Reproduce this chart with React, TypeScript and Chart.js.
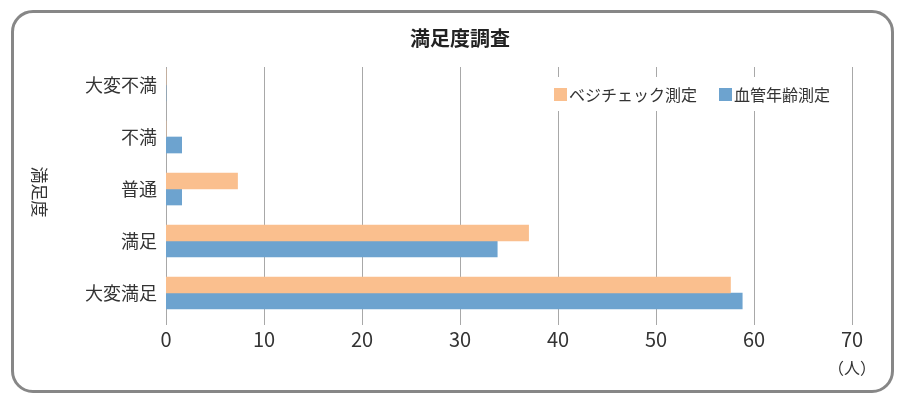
import React, { useEffect, useRef } from "react";
import { Chart, registerables } from "chart.js";

Chart.register(...registerables);

const chartTitle = "満足度調査";
const yAxisTitle = "満足度";
const unitLabel = "（人）";
const categories = ["大変不満", "不満", "普通", "満足", "大変満足"];
const seriesNames = ["ベジチェック測定", "血管年齢測定"];
const vegeCheckValues = [0, 0, 7.3, 37, 57.6];
const vascularAgeValues = [0, 1.6, 1.6, 33.8, 58.8];
const xTickValues = [0, 10, 20, 30, 40, 50, 60, 70];

const ORANGE = "#FABF8E";
const BLUE = "#6DA3CF";
const GRID = "#a8a8a8";
const TEXT = "#333333";
const FONT = '"Noto Sans CJK JP", "Noto Sans", sans-serif';

const decorPlugin = {
  id: "decor",
  beforeDatasetsDraw(chart: any) {
    const ctx = chart.ctx;
    const xs = chart.scales.x;
    const area = chart.chartArea;
    ctx.save();
    ctx.strokeStyle = GRID;
    ctx.lineWidth = 1;
    for (const v of xTickValues) {
      const px = Math.round(xs.getPixelForValue(v)) + 0.5;
      ctx.beginPath();
      ctx.moveTo(px, area.top + 8);
      ctx.lineTo(px, area.bottom + 6);
      ctx.stroke();
    }
    ctx.restore();
  },
  afterDatasetsDraw(chart: any) {
    const ctx = chart.ctx;
    const area = chart.chartArea;
    const colors = [ORANGE, BLUE];
    ctx.save();
    ctx.font = `16px ${FONT}`;
    const box = 13;
    const gapBoxText = 2;
    const gapItems = 22;
    const widths = seriesNames.map((n) => ctx.measureText(n).width);
    let total = 0;
    widths.forEach((w, i) => {
      total += box + gapBoxText + w + (i < widths.length - 1 ? gapItems : 0);
    });
    const right = area.right - 22;
    let x = right - total;
    const cy = 95;
    ctx.fillStyle = "#ffffff";
    ctx.fillRect(x - 6, cy - 18, total + 12, 34);
    ctx.textBaseline = "middle";
    ctx.textAlign = "left";
    seriesNames.forEach((n, i) => {
      ctx.fillStyle = colors[i];
      ctx.fillRect(x, cy - 7, box, box);
      ctx.fillStyle = TEXT;
      ctx.fillText(n, x + box + gapBoxText, cy);
      x += box + gapBoxText + widths[i] + gapItems;
    });
    ctx.restore();
  },
  afterDraw(chart: any) {
    const ctx = chart.ctx;
    const xs = chart.scales.x;
    const area = chart.chartArea;
    ctx.save();
    // title
    ctx.fillStyle = "#222222";
    ctx.font = `bold 20px ${FONT}`;
    ctx.textAlign = "center";
    ctx.textBaseline = "middle";
    ctx.fillText(chartTitle, 460, 38);
    // y-axis title, rotated clockwise
    ctx.font = `17px ${FONT}`;
    ctx.fillStyle = TEXT;
    ctx.translate(39, (area.top + area.bottom) / 2 + 3);
    ctx.rotate(Math.PI / 2);
    ctx.fillText(yAxisTitle, 0, 0);
    ctx.restore();
    // unit label
    ctx.save();
    ctx.font = `16px ${FONT}`;
    ctx.fillStyle = TEXT;
    ctx.textAlign = "center";
    ctx.textBaseline = "middle";
    ctx.fillText(unitLabel, xs.getPixelForValue(70), 368);
    ctx.restore();
  },
};

export default function App() {
  const canvasRef = useRef<HTMLCanvasElement | null>(null);

  useEffect(() => {
    if (!canvasRef.current) return;
    const chart = new Chart(canvasRef.current, {
      type: "bar",
      data: {
        labels: categories,
        datasets: [
          {
            label: seriesNames[0],
            data: vegeCheckValues,
            backgroundColor: ORANGE,
            borderWidth: 0,
            barThickness: 16,
          },
          {
            label: seriesNames[1],
            data: vascularAgeValues,
            backgroundColor: BLUE,
            borderWidth: 0,
            barThickness: 16,
          },
        ],
      },
      options: {
        indexAxis: "y",
        responsive: false,
        animation: false,
        devicePixelRatio: 1,
        layout: { padding: { top: 59, right: 48, left: 0, bottom: 0 } },
        plugins: {
          legend: { display: false },
          title: { display: false },
          tooltip: { enabled: false },
        },
        scales: {
          x: {
            min: 0,
            max: 70,
            ticks: {
              stepSize: 10,
              color: TEXT,
              font: { family: FONT, size: 20 },
              padding: 2,
              maxRotation: 0,
            },
            grid: { display: false, drawTicks: true, tickLength: 6 },
            border: { display: false },
            afterFit(scale: any) {
              scale.height = 82;
            },
          },
          y: {
            ticks: {
              color: TEXT,
              font: { family: FONT, size: 18 },
              padding: 9,
            },
            grid: { display: false, drawTicks: false },
            border: { display: false },
            afterFit(scale: any) {
              scale.width = 166;
            },
          },
        },
      },
      plugins: [decorPlugin],
    } as any);
    return () => chart.destroy();
  }, []);

  return (
    <div style={{ position: "absolute", left: 0, top: 0, width: 900, height: 401, background: "#ffffff" }}>
      <div
        style={{
          position: "absolute",
          left: 11,
          top: 10,
          width: 883,
          height: 383,
          boxSizing: "border-box",
          border: "3px solid #878787",
          borderRadius: 22,
        }}
      />
      <canvas
        ref={canvasRef}
        width={900}
        height={401}
        style={{ position: "absolute", left: 0, top: 0, width: 900, height: 401 }}
      />
    </div>
  );
}
